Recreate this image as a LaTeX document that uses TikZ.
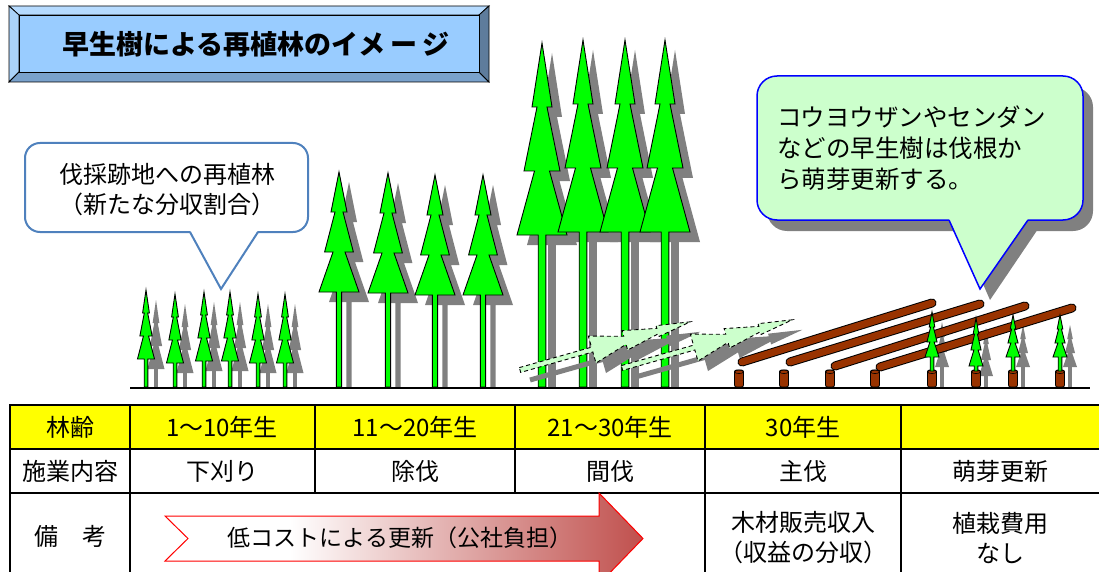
\documentclass[tikz,border=0pt]{standalone}
\usepackage{fontspec}
\setmainfont{Noto Sans CJK JP}
\usetikzlibrary{calc}

\definecolor{treegreen}{RGB}{0,255,0}
\definecolor{shadowgray}{RGB}{128,128,128}
\definecolor{fallengreen}{RGB}{204,255,204}
\definecolor{logbrown}{RGB}{153,51,0}
\definecolor{titleface}{RGB}{153,204,255}
\definecolor{beveltop}{RGB}{182,219,255}
\definecolor{bevelleft}{RGB}{170,210,248}
\definecolor{bevelbottom}{RGB}{122,162,204}
\definecolor{bevelright}{RGB}{94,124,156}
\definecolor{calloutblue}{RGB}{79,129,189}
\definecolor{noteblue}{RGB}{0,0,255}
\definecolor{notegreen}{RGB}{204,255,204}
\definecolor{arrowred}{RGB}{192,80,77}
\definecolor{arrowedge}{RGB}{255,0,0}
\definecolor{tableyellow}{RGB}{255,255,0}

\pgfdeclarehorizontalshading{arrowfade}{100bp}{color(0bp)=(white); color(25bp)=(white); color(38bp)=(white); color(75bp)=(arrowred); color(100bp)=(arrowred)}

% standing tree: x, apex y, tier height, half width, trunk half width, trunk bottom y
\newcommand{\treeshape}[6]{%
  ({#1},{#2}) -- ({#1+0.4*#4},{#2+#3}) -- ({#1+0.2*#4},{#2+#3})
  -- ({#1+0.72*#4},{#2+2*#3}) -- ({#1+0.3*#4},{#2+2*#3})
  -- ({#1+#4},{#2+3*#3}) -- ({#1+#5},{#2+3*#3}) -- ({#1+#5},{#6})
  -- ({#1-#5},{#6}) -- ({#1-#5},{#2+3*#3}) -- ({#1-#4},{#2+3*#3})
  -- ({#1-0.3*#4},{#2+2*#3}) -- ({#1-0.72*#4},{#2+2*#3})
  -- ({#1-0.2*#4},{#2+#3}) -- ({#1-0.4*#4},{#2+#3}) -- cycle}
\newcommand{\treeshadow}[6]{\fill[treeshade] \treeshape{#1+10}{#2+10}{#3}{#4}{#5}{#6};}
\newcommand{\treebody}[6]{\filldraw[treebody] \treeshape{#1}{#2}{#3}{#4}{#5}{#6};}

% felled tree lying along +x, trunk base at the origin
\newcommand{\fallenshape}{(0,-2.5) -- (75,-2.5) -- (75,-14) -- (109,-4.2) -- (109,-10.1)
  -- (143,-2.8) -- (143,-5.6) -- (177,0) -- (143,5.6) -- (143,2.8) -- (109,10.1)
  -- (109,4.2) -- (75,14) -- (75,2.5) -- (0,2.5) -- cycle}

\newcommand{\stump}[1]{%
  \filldraw[fill=logbrown,draw=black,line width=0.8pt,rounded corners=2pt] ({#1-4.5},370) rectangle ({#1+4.5},387);
  \draw[black,line width=0.6pt] ({#1},371.8) ellipse[x radius=4.5,y radius=1.8];}

\begin{document}
\begin{tikzpicture}[x=1pt,y=-1pt,
  treebody/.style={fill=treegreen,draw=black,line width=0.9pt,line join=miter},
  treeshade/.style={fill=shadowgray},
  fallenbody/.style={fill=fallengreen,draw=black,line width=0.9pt,dash pattern=on 4pt off 3pt},
  logblack/.style={line width=9pt,black,line cap=round},
  logfill/.style={line width=7pt,logbrown,line cap=round},
  tableline/.style={line width=2pt,line cap=rect},
  celltext/.style={font=\fontsize{24}{30}\selectfont,inner sep=0pt,align=center},
  bevel/.style={draw=black,line width=0.8pt,line join=miter}]
\useasboundingbox (0,0) rectangle (1099,572);

% ---------- title plate ----------
\filldraw[bevel,fill=beveltop] (9,6) -- (489,6) -- (479,15) -- (19,15) -- cycle;
\filldraw[bevel,fill=bevelleft] (9,6) -- (19,15) -- (19,72) -- (9,82) -- cycle;
\filldraw[bevel,fill=bevelbottom] (9,82) -- (19,72) -- (479,72) -- (489,82) -- cycle;
\filldraw[bevel,fill=bevelright] (489,6) -- (489,82) -- (479,72) -- (479,15) -- cycle;
\filldraw[bevel,fill=titleface] (19,15) rectangle (479,72);
\node[inner sep=0pt,font=\fontsize{27}{32}\selectfont\bfseries] (title) at (256,44)
  {早生樹による再植林のイメ\hspace{5pt}ー\hspace{5pt}ジ};

% ---------- left callout ----------
\filldraw[draw=calloutblue,fill=white,line width=2pt,rounded corners=15pt] (25,143) rectangle (308,232);
\fill[white] (190,230.5) -- (221,289) -- (258,230.5) -- cycle;
\draw[calloutblue,line width=2pt,line join=miter] (190,232) -- (221,289) -- (258,232);
\node[inner sep=0pt,align=center,font=\fontsize{24}{30}\selectfont] (leftnote) at (167,190)
  {伐採跡地への再植林\\（新たな分収割合）};

% ---------- right callout ----------
\fill[shadowgray,rounded corners=20pt] (767,87) rectangle (1093,231);
\fill[shadowgray] (959,229) -- (990,300) -- (1038,229) -- cycle;
\filldraw[draw=noteblue,fill=notegreen,line width=1.5pt,rounded corners=20pt] (757,76) rectangle (1083,220);
\fill[notegreen] (949,219) -- (980,289) -- (1028,219) -- cycle;
\draw[noteblue,line width=1.5pt,line join=miter] (949,220) -- (980,289) -- (1028,220);
\node[inner sep=0pt,align=left,anchor=west,font=\fontsize{24.5}{31}\selectfont] (rightnote) at (777,148)
  {コウヨウザンやセンダン\\などの早生樹は伐根か\\ら萌芽更新する。};

% ---------- standing trees: shadows first ----------
\foreach \x/\a in {146/290,175/294,204/292,230/292,258/294,285/294}
  {\treeshadow{\x}{\a}{23}{8.5}{1.8}{387}}
\foreach \x/\a in {339/172,388/173,435/175,483/175}
  {\treeshadow{\x}{\a}{40}{20}{2.6}{387}}
\foreach \x/\a in {542/43,583/40,625/40,665/40}
  {\treeshadow{\x}{\a}{64}{25}{3.8}{387}}

\foreach \x/\a in {146/290,175/294,204/292,230/292,258/294,285/294}
  {\treebody{\x}{\a}{23}{8.5}{1.8}{387}}
\foreach \x/\a in {339/172,388/173,435/175,483/175}
  {\treebody{\x}{\a}{40}{20}{2.6}{387}}
\foreach \x/\a in {542/43,583/40,625/40,665/40}
  {\treebody{\x}{\a}{64}{25}{3.8}{387}}

% ---------- thinned trees lying on the slope ----------
\foreach \bx/\by in {520/370,622/368}{
  \begin{scope}[shift={(\bx+10,\by+10)},rotate=15.8]
    \fill[shadowgray] \fallenshape;
  \end{scope}}
\foreach \bx/\by in {520/370,622/368}{
  \begin{scope}[shift={(\bx,\by)},rotate=15.8]
    \filldraw[fallenbody] \fallenshape;
  \end{scope}}

% ---------- final harvest: logs, stumps, coppice shoots ----------
\foreach \x/\a/\h in {932/312/15,976/318/16,1013/315/14,1060/315/14}
  {\treeshadow{\x}{\a}{\h}{7}{1.8}{387}}
\foreach \ax/\ay/\bx/\by in {742/362/932/303, 790/362/980/304, 835/366/1025/306, 880/367/1072/308}{
  \draw[logblack] (\ax,\ay) -- (\bx,\by);
  \draw[logfill] (\ax,\ay) -- (\bx,\by);}
\foreach \x in {739,784,830,875,932,976,1013,1060}{\stump{\x}}
\foreach \x/\a/\h in {932/312/15,976/318/16,1013/315/14,1060/315/14}
  {\treebody{\x}{\a}{\h}{7}{1.8}{371}}

% ground
\draw[line width=2pt] (130,388) -- (1090,388);

% ---------- table ----------
\fill[tableyellow] (10,405) rectangle (1099,449);
\draw[tableline] (10,405) -- (1099,405);
\draw[tableline] (10,449) -- (1099,449);
\draw[tableline] (10,493) -- (1099,493);
\draw[tableline] (10,405) -- (10,580);
\draw[tableline] (130,405) -- (130,580);
\draw[tableline] (315,405) -- (315,493);
\draw[tableline] (515,405) -- (515,493);
\draw[tableline] (705,405) -- (705,580);
\draw[tableline] (901,405) -- (901,580);

\node[celltext] (age)   at (70,427)  {林齢};
\node[celltext] (age1)  at (222,427) {1～10年生};
\node[celltext] (age2)  at (415,427) {11～20年生};
\node[celltext] (age3)  at (610,427) {21～30年生};
\node[celltext] (age4)  at (803,427) {30年生};

\node[celltext] (work)  at (70,471)  {施業内容};
\node[celltext] (work1) at (222,471) {下刈り};
\node[celltext] (work2) at (415,471) {除伐};
\node[celltext] (work3) at (610,471) {間伐};
\node[celltext] (work4) at (803,471) {主伐};
\node[celltext] (work5) at (1000,471) {萌芽更新};

\node[celltext] (note)  at (70,536)  {備　考};
\node[celltext] (note4) at (803,538) {木材販売収入\\（収益の分収）};
\node[celltext] (note5) at (1000,538) {植栽費用\\なし};

% cost arrow
\path[shading=arrowfade,draw=arrowedge,line width=1pt,line join=miter]
  (165,516) -- (599,516) -- (599,493) -- (643,538.5) -- (599,584) -- (599,561) -- (165,561) -- (188,538.5) -- cycle;
\node[inner sep=0pt,font=\fontsize{23}{28}\selectfont] (cost) at (400,538) {低コストによる更新（公社負担）};
\end{tikzpicture}
\end{document}
